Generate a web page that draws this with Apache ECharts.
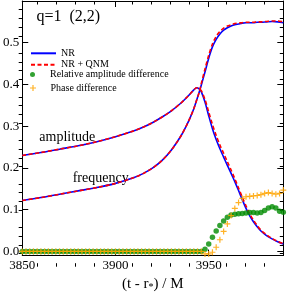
<!DOCTYPE html>
<html><head><meta charset="utf-8">
<script src="https://cdn.jsdelivr.net/npm/echarts@6/dist/echarts.min.js"></script>
<style>html,body{margin:0;padding:0;background:#fff}#c{width:287px;height:297px}</style>
</head><body><div id="c"></div>
<script>
// curve time samples (t - r*)/M
const curveT = [3850,3860,3870,3880,3890,3900,3910,3915,3920,3925,3930,3935,3938,3940,3942,3943.5,3945,3946,3948,3950,3952,3954,3956,3958,3960,3962,3964,3966,3968,3970,3972,3974,3976,3978,3981,3984,3987,3990];
const ampNR = [0.230,0.237,0.245,0.253,0.263,0.275,0.289,0.298,0.309,0.322,0.337,0.355,0.368,0.377,0.387,0.392,0.389,0.383,0.358,0.325,0.294,0.268,0.246,0.226,0.206,0.187,0.167,0.146,0.124,0.103,0.085,0.071,0.059,0.049,0.038,0.030,0.023,0.018];
const ampQNM = [0.230,0.237,0.245,0.253,0.263,0.275,0.289,0.298,0.309,0.322,0.337,0.355,0.368,0.377,0.387,0.392,0.389,0.385,0.364,0.334,0.304,0.278,0.255,0.235,0.215,0.195,0.174,0.152,0.130,0.109,0.090,0.075,0.062,0.051,0.040,0.031,0.024,0.019];
const freqNR = [0.122,0.129,0.137,0.145,0.153,0.163,0.177,0.187,0.200,0.218,0.243,0.276,0.301,0.320,0.342,0.362,0.383,0.398,0.430,0.463,0.490,0.508,0.521,0.530,0.536,0.540,0.543,0.545,0.547,0.548,0.548,0.548,0.549,0.549,0.550,0.551,0.550,0.548];
const freqQNM = [0.122,0.129,0.137,0.145,0.153,0.163,0.177,0.187,0.200,0.218,0.243,0.276,0.301,0.320,0.342,0.362,0.383,0.402,0.437,0.470,0.497,0.515,0.527,0.535,0.540,0.543,0.546,0.547,0.548,0.549,0.549,0.549,0.550,0.550,0.551,0.552,0.552,0.550];
// marker samples
const markerT = [3850,3852,3854,3856,3858,3860,3862,3864,3866,3868,3870,3872,3874,3876,3878,3880,3882,3884,3886,3888,3890,3892,3894,3896,3898,3900,3902,3904,3906,3908,3910,3912,3914,3916,3918,3920,3922,3924,3926,3928,3930,3932,3934,3936,3938,3940,3942,3944,3946,3948,3950,3952,3954,3956,3958,3960,3962,3964,3966,3968,3970,3972,3974,3976,3978,3980,3982,3984,3986,3988,3990];
const ampDiff = [0,0,0,0,0,0,0,0,0,0,0,0,0,0,0,0,0,0,0,0,0,0,0,0,0,0,0,0,0,0,0,0,0,0,0,0,0,0,0,0,0,0,0,0,0,0,0,0,0,0.005,0.018,0.034,0.049,0.062,0.073,0.082,0.087,0.089,0.090,0.091,0.092,0.093,0.093,0.092,0.093,0.098,0.104,0.107,0.104,0.096,0.094];
const phaseDiff = [0,0,0,0,0,0,0,0,0,0,0,0,0,0,0,0,0,0,0,0,0,0,0,0,0,0,0,0,0,0,0,0,0,0,0,0,0,0,0,0,0,0,0,0,0,0,0,0,0,-0.006,-0.006,-0.002,0.010,0.028,0.048,0.066,0.086,0.103,0.117,0.127,0.131,0.132,0.133,0.134,0.136,0.139,0.141,0.139,0.137,0.139,0.147];
// ticks
const xMajor = [3850,3900,3950];
const xMinor = [3860,3870,3880,3890,3910,3920,3930,3940,3960,3970,3980];
const yMajor = [0,0.1,0.2,0.3,0.4,0.5,0.6];
const yLabels = [0,0.1,0.2,0.3,0.4,0.5];
const yMinor = [0.02,0.04,0.06,0.08,0.12,0.14,0.16,0.18,0.22,0.24,0.26,0.28,0.32,0.34,0.36,0.38,0.42,0.44,0.46,0.48,0.52,0.54,0.56,0.58];

const FONT = 'Liberation Serif';
const zip = (a,b) => a.map((v,i)=>[v,b[i]]);
const X0=3850, X1=3990, Y0=-0.01, Y1=0.6;
const gridBox = {left:18.7, right:3.7, top:1, bottom:30.3};

function xAx(grid, pos, ticks, len, labels, axLine){
  return {type:'value', gridIndex:grid, position:pos, min:X0, max:X1,
    axisLine:{show:axLine, onZero:false, lineStyle:{color:'#000',width:1}},
    axisTick:{show:true, inside:true, length:len, customValues:ticks, lineStyle:{color:'#000',width:1}},
    splitLine:{show:false}, minorTick:{show:false},
    axisLabel: labels ? {show:true, customValues:labels, fontFamily:FONT, fontSize:13, color:'#000', margin:3,
      formatter:v=>String(v)} : {show:false}};
}
function yAx(grid, pos, ticks, len, labels, axLine){
  return {type:'value', gridIndex:grid, position:pos, min:Y0, max:Y1,
    axisLine:{show:axLine, onZero:false, lineStyle:{color:'#000',width:1}},
    axisTick:{show:true, inside:true, length:len, customValues:ticks, lineStyle:{color:'#000',width:1}},
    splitLine:{show:false}, minorTick:{show:false},
    axisLabel: labels ? {show:true, customValues:labels, fontFamily:FONT, fontSize:13, color:'#000', margin:3,
      formatter:v=>v.toFixed(1)} : {show:false}};
}

const xMain = xAx(0,'bottom',xMajor,6,xMajor,true);
xMain.name = '(t - r{s|*}) / M';
xMain.nameLocation = 'middle';
xMain.nameGap = 14;
xMain.nameTextStyle = {fontFamily:FONT, fontSize:15, color:'#000', verticalAlign:'top',
  rich:{s:{fontFamily:FONT, fontSize:10, color:'#000', verticalAlign:'bottom', padding:[6,0,0,0]}}};

const blue = '#0000ff', red = '#ff0000', green = '#008b00', orange = '#ffa500';
const plusPath = 'path://M4,0H6V10H4Z M0,4H10V6H0Z';
const legText = {fontFamily:FONT, fontSize:10, color:'#000'};

const chart = echarts.init(document.getElementById('c'), null, {renderer:'canvas'});
chart.setOption({
  animation:false,
  backgroundColor:'#fff',
  grid:[Object.assign({}, gridBox), Object.assign({}, gridBox)],
  xAxis:[xMain, xAx(0,'top',xMajor,6,null,true), xAx(1,'bottom',xMinor,3.5,null,false), xAx(1,'top',xMinor,3.5,null,false)],
  yAxis:[yAx(0,'left',yMajor,6,yLabels,true), yAx(0,'right',yMajor,6,null,true), yAx(1,'left',yMinor,3.5,null,false), yAx(1,'right',yMinor,3.5,null,false)],
  legend:[
    {data:['NR'], left:30, top:48.3, padding:0, itemWidth:25, itemHeight:2, itemGap:6, selectedMode:false, itemStyle:{opacity:0}, textStyle:legText},
    {data:['NR + QNM'], left:30, top:59.7, padding:0, itemWidth:25, itemHeight:2, selectedMode:false, itemStyle:{opacity:0}, textStyle:legText},
    {data:['Relative amplitude difference'], left:30, top:69.5, padding:0, itemWidth:25, itemHeight:5, selectedMode:false, textStyle:legText},
    {data:['Phase difference'], left:30, top:83, padding:0, itemWidth:25, itemHeight:6, selectedMode:false, textStyle:legText}
  ],
  graphic:[
    {type:'text', left:36.5, top:9, style:{text:'q=1  (2,2)', font:'16px "Liberation Serif"', fill:'#000'}},
    {type:'text', left:39.3, top:130.5, style:{text:'amplitude', font:'14px "Liberation Serif"', fill:'#000'}},
    {type:'text', left:72.7, top:171.5, style:{text:'frequency', font:'14px "Liberation Serif"', fill:'#000'}}
  ],
  series:[
    {name:'NR', type:'line', xAxisIndex:0, yAxisIndex:0, data:zip(curveT,ampNR), smooth:0.3, symbol:'none', lineStyle:{color:blue,width:1.6}, itemStyle:{color:blue}, z:2},
    {name:'NR', type:'line', xAxisIndex:0, yAxisIndex:0, data:zip(curveT,freqNR), smooth:0.3, symbol:'none', lineStyle:{color:blue,width:1.6}, itemStyle:{color:blue}, z:2},
    {name:'NR + QNM', type:'line', xAxisIndex:0, yAxisIndex:0, data:zip(curveT,ampQNM), smooth:0.3, symbol:'none', lineStyle:{color:red,width:1.6,type:[4,2.5]}, itemStyle:{color:red}, z:3},
    {name:'NR + QNM', type:'line', xAxisIndex:0, yAxisIndex:0, data:zip(curveT,freqQNM), smooth:0.3, symbol:'none', lineStyle:{color:red,width:1.6,type:[4,2.5]}, itemStyle:{color:red}, z:3},
    {name:'Relative amplitude difference', type:'scatter', xAxisIndex:0, yAxisIndex:0, data:zip(markerT,ampDiff), symbol:'circle', symbolSize:5.5, itemStyle:{color:green}, z:4},
    {name:'Phase difference', type:'scatter', xAxisIndex:0, yAxisIndex:0, data:zip(markerT,phaseDiff), symbol:plusPath, symbolSize:6, itemStyle:{color:orange, opacity:0.85}, z:5}
  ]
});
</script></body></html>
